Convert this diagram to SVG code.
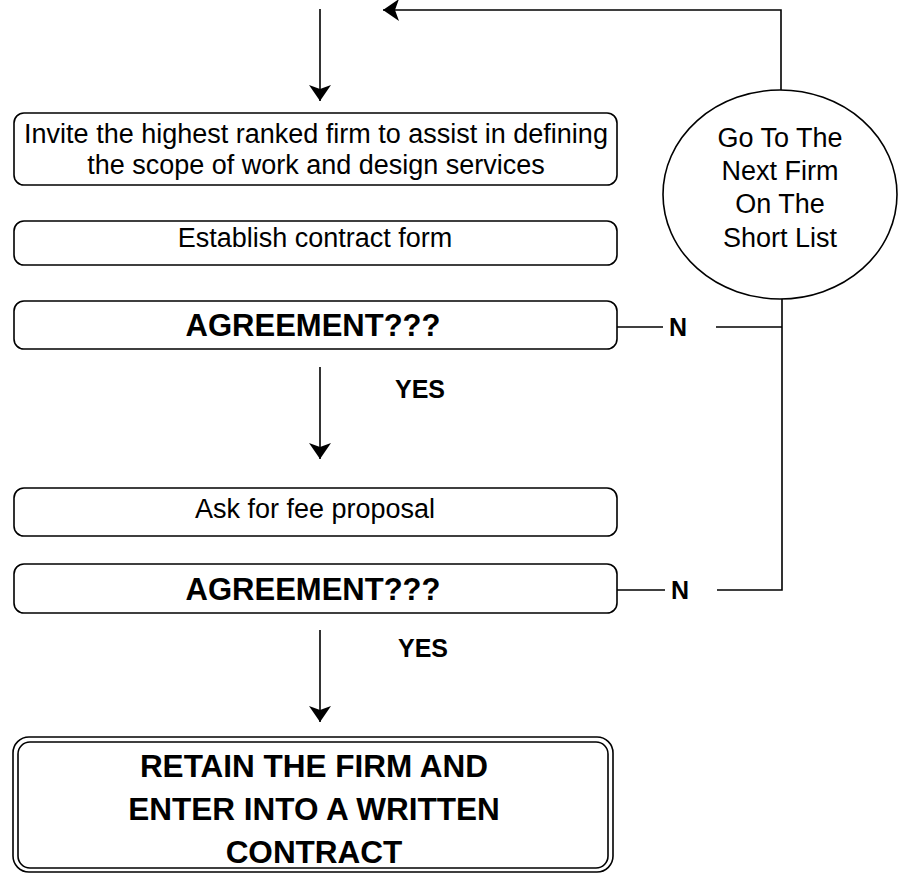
<svg xmlns="http://www.w3.org/2000/svg" width="899" height="873" viewBox="0 0 899 873">
<style>
  .box { fill: #ffffff; stroke: #000000; stroke-width: 1.6; }
  .line { fill: none; stroke: #000000; stroke-width: 1.6; }
  .t { font-family: "Liberation Sans", Arial, sans-serif; font-size: 27px; fill: #000000; text-anchor: middle; }
  .b { font-family: "Liberation Sans", Arial, sans-serif; font-weight: bold; font-size: 31px; fill: #000000; text-anchor: middle; }
  .lbl { font-family: "Liberation Sans", Arial, sans-serif; font-weight: bold; font-size: 25px; fill: #000000; }
</style>
<defs>
  <marker id="arrow" viewBox="0 0 16 22" refX="16" refY="11" markerWidth="16" markerHeight="22" markerUnits="userSpaceOnUse" orient="auto">
    <path d="M0,0 L16,11 L0,22 L4,11 Z" fill="#000000"/>
  </marker>
</defs>
<rect width="899" height="873" fill="#ffffff"/>

<g id="connectors">
  <line class="line" x1="320" y1="9" x2="320" y2="101" marker-end="url(#arrow)"/>
  <polyline class="line" points="781,90 781,10 383,10" marker-end="url(#arrow)"/>
  <line class="line" x1="320" y1="367" x2="320" y2="459" marker-end="url(#arrow)"/>
  <line class="line" x1="320" y1="630" x2="320" y2="722" marker-end="url(#arrow)"/>
  <line class="line" x1="617" y1="327" x2="663" y2="327"/>
  <line class="line" x1="716" y1="327" x2="782" y2="327"/>
  <line class="line" x1="617" y1="590" x2="665" y2="590"/>
  <polyline class="line" points="717,590 782,590 782,299"/>
  <text class="lbl" x="669" y="336">N</text>
  <text class="lbl" x="671" y="599">N</text>
  <text class="lbl" x="395" y="398">YES</text>
  <text class="lbl" x="398" y="657">YES</text>
</g>

<g id="node-invite">
  <rect class="box" x="14" y="113" width="603" height="72" rx="10"/>
  <text class="t" x="316" y="143">Invite the highest ranked firm to assist in defining</text>
  <text class="t" x="316" y="174">the scope of work and design services</text>
</g>

<g id="node-establish">
  <rect class="box" x="14" y="221" width="603" height="44" rx="10"/>
  <text class="t" x="315" y="247">Establish contract form</text>
</g>

<g id="node-agreement1">
  <rect class="box" x="14" y="301" width="603" height="48" rx="10"/>
  <text class="b" x="313" y="336">AGREEMENT???</text>
</g>

<g id="node-fee">
  <rect class="box" x="14" y="488" width="603" height="48" rx="10"/>
  <text class="t" x="315" y="518">Ask for fee proposal</text>
</g>

<g id="node-agreement2">
  <rect class="box" x="14" y="564" width="603" height="49" rx="10"/>
  <text class="b" x="313" y="600">AGREEMENT???</text>
</g>

<g id="node-next-firm">
  <ellipse class="box" cx="780" cy="194.5" rx="117" ry="104.5"/>
  <text class="t" x="780" y="147">Go To The</text>
  <text class="t" x="780" y="180">Next Firm</text>
  <text class="t" x="780" y="213">On The</text>
  <text class="t" x="780" y="247">Short List</text>
</g>

<g id="node-retain">
  <rect class="box" x="13" y="737" width="600" height="135" rx="16"/>
  <rect class="box" x="18" y="742" width="590" height="126" rx="12"/>
  <text class="b" x="314" y="777" style="font-size:31.5px">RETAIN THE FIRM AND</text>
  <text class="b" x="314" y="820" style="font-size:31.5px">ENTER INTO A WRITTEN</text>
  <text class="b" x="314" y="863" style="font-size:31.5px">CONTRACT</text>
</g>
</svg>
